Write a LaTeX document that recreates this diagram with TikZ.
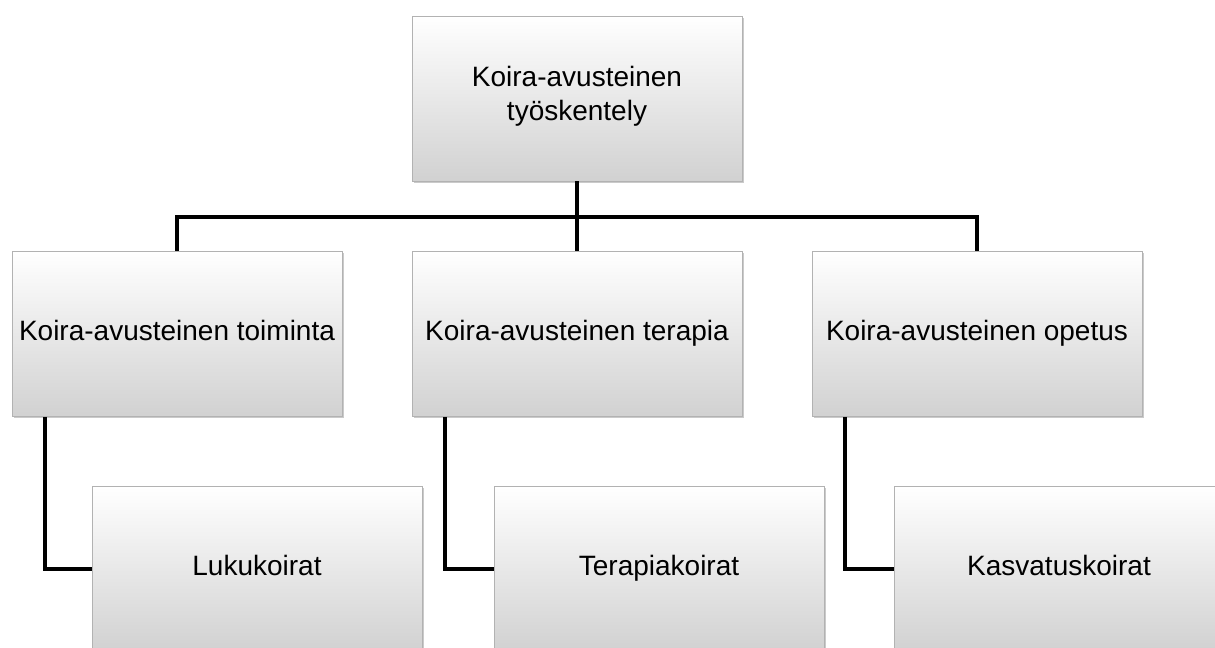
\documentclass[tikz,border=0pt]{standalone}
\usepackage{fontspec}
\setmainfont{Liberation Sans}
\usetikzlibrary{shadows}
\tikzset{
  box/.style={rectangle,draw=black!30,line width=0.5pt,top color=white,bottom color=black!18,
    minimum width=247.5pt,minimum height=123.75pt,inner sep=2pt,align=center,
    font=\fontsize{21}{25}\selectfont,execute at begin node=\strut,
    drop shadow={shadow xshift=1.2pt,shadow yshift=-1.2pt,opacity=0.35,fill=black!60}},
  link/.style={line width=3.2pt}
}
\begin{document}
\begin{tikzpicture}[x=0.75pt,y=-0.75pt]
\useasboundingbox (0,0) rectangle (1215,648);
\clip (0,0) rectangle (1215,648);
\node[box] (tyo) at (577,98.5) {Koira-avusteinen\\työskentely};
\node[box] (toiminta) at (177,334) {Koira-avusteinen toiminta};
\node[box] (terapia) at (577,334) {Koira-avusteinen terapia};
\node[box] (opetus) at (977,334) {Koira-avusteinen opetus};
\node[box] (luku) at (257,569) {Lukukoirat};
\node[box] (terapiakoirat) at (659,569) {Terapiakoirat};
\node[box] (kasvatus) at (1059,569) {Kasvatuskoirat};
\coordinate (haara) at (577,217);
\draw[link] (tyo) -- (haara);
\foreach \m in {toiminta,terapia,opetus}
    \draw[link] (haara) -| (\m);
\foreach \m/\b in {toiminta/luku,terapia/terapiakoirat,opetus/kasvatus}
    \draw[link] ([xshift=24.75pt]\m.south west) |- (\b);
\end{tikzpicture}
\end{document}
